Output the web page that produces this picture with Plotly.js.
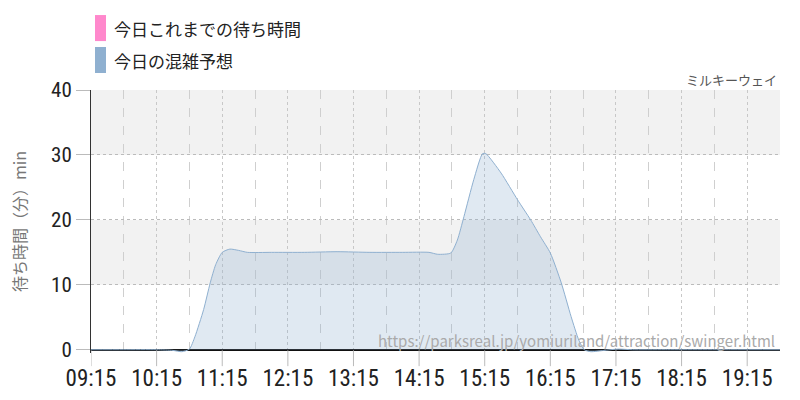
<!DOCTYPE html>
<html><head><meta charset="utf-8">
<script src="https://cdn.plot.ly/plotly-3.0.1.min.js"></script>
<style>html,body{margin:0;padding:0;background:#fff}#chart{width:800px;height:400px}</style>
</head><body><div id="chart"></div>
<script>
const day = '2024-01-01 ';
const seriesNames = ['今日これまでの待ち時間', '今日の混雑予想'];
const attractionName = 'ミルキーウェイ';
const sourceUrl = 'https://parksreal.jp/yomiuriland/attraction/swinger.html';
const yTitle = '待ち時間（分）min';

// today's actual waits so far (none)
const actualTimes = [];
const actualWaits = [];

// forecast
const forecastTimes = ['09:15','09:45','10:15','10:30','10:38','10:45','10:50','10:58','11:04','11:09','11:15','11:22','11:30','11:38','12:00','12:30','13:00','13:30','14:00','14:24','14:32','14:44','14:50','14:56','15:05','15:13','15:16','15:30','15:45','15:57','16:06','16:15','16:25','16:34','16:41','16:46','16:52','17:04','17:17','17:30','18:00','19:00','19:45'];
const forecastWaits = [0,0,0,-0.1,-0.3,0.1,2.0,6.2,10.3,13.1,15.0,15.5,15.3,15.0,15.0,15.0,15.1,15.0,15.0,15.0,14.7,14.9,16.9,20.5,26.2,30.2,30.2,27.2,23.1,20.0,17.4,14.9,10.3,5.1,1.5,0,-0.3,-0.1,0.1,0,0,0,0];

const tickTimes = ['09:15','10:15','11:15','12:15','13:15','14:15','15:15','16:15','17:15','18:15','19:15'];
const yTicks = [0,10,20,30,40];
const bands = [[10,20],[30,40]];

const condensed = '"Roboto Condensed","Liberation Sans Narrow","DejaVu Sans Condensed",sans-serif';
const jp = '"Noto Sans CJK JP","Noto Sans",sans-serif';

const traces = [
  {x: actualTimes.map(t=>day+t), y: actualWaits, type:'scatter', mode:'lines', name: seriesNames[0],
   line:{color:'#ff88cc', width:1}, fill:'tozeroy', fillcolor:'rgba(255,136,204,0.3)', showlegend:false, hoverinfo:'skip'},
  {x: forecastTimes.map(t=>day+t), y: forecastWaits, type:'scatter', mode:'lines', name: seriesNames[1],
   line:{color:'#8fb0d0', width:1, shape:'spline', smoothing:0.6}, fill:'tozeroy', fillcolor:'rgba(143,176,208,0.28)', showlegend:false, hoverinfo:'skip'}
];

const shapes = bands.map(b=>({type:'rect', xref:'paper', yref:'y', x0:0, x1:1, y0:b[0], y1:b[1], fillcolor:'#f2f2f2', line:{width:0}, layer:'below'}));
// longer x tick marks below the axis
tickTimes.forEach(t=>shapes.push({type:'line', xref:'x', yref:'paper', x0:day+t, x1:day+t, y0:0.01, y1:-0.05, line:{color:'#bbb', width:1}}));
shapes.push({type:'rect', xref:'paper', yref:'paper', x0:0.0058, x1:0.0218, y0:1.186, y1:1.285, fillcolor:'#ff88cc', line:{width:0}});
shapes.push({type:'rect', xref:'paper', yref:'paper', x0:0.0058, x1:0.0218, y0:1.0646, y1:1.1635, fillcolor:'#8fb0d0', line:{width:0}});

const annotations = [
  {xref:'paper', yref:'paper', x:0.0305, y:1.2357, xanchor:'left', yanchor:'middle', text:seriesNames[0], showarrow:false, font:{family:jp, size:17, color:'#222'}},
  {xref:'paper', yref:'paper', x:0.0305, y:1.114, xanchor:'left', yanchor:'middle', text:seriesNames[1], showarrow:false, font:{family:jp, size:17, color:'#222'}},
  {xref:'paper', yref:'paper', x:0.9985, y:1.0418, xanchor:'right', yanchor:'middle', text:attractionName, showarrow:false, font:{family:jp, size:13, color:'#555'}},
  {xref:'paper', yref:'paper', x:0.9956, y:0.0494, xanchor:'right', yanchor:'middle', text:sourceUrl, showarrow:false, font:{family:jp, size:15, color:'#aaa'}}
];

const layout = {
  width:800, height:400,
  margin:{l:91, r:20, t:90, b:47},
  paper_bgcolor:'#fff', plot_bgcolor:'#fff',
  showlegend:false,
  xaxis:{
    type:'date', range:[day+'09:15', day+'19:45'],
    tickvals: tickTimes.map(t=>day+t), ticktext: tickTimes,
    showgrid:true, gridcolor:'#c8c8c8', griddash:'dot', gridwidth:1,
    minor:{tick0: day+'09:45', dtick:3600000, showgrid:true, gridcolor:'#cfcfcf', griddash:'dash', gridwidth:1},
    ticks:'outside', ticklen:4, tickcolor:'rgba(0,0,0,0)', tickwidth:1,
    showline:false, zeroline:false,
    tickfont:{family:condensed, size:23, color:'#222'},
    fixedrange:true
  },
  yaxis:{
    range:[-0.5,40], tickvals:yTicks,
    showgrid:true, gridcolor:'#bbb', griddash:'dot', gridwidth:1,
    zeroline:true, zerolinecolor:'#111', zerolinewidth:1.5,
    showline:true, linecolor:'#333', linewidth:1,
    ticks:'outside', ticklen:14, tickcolor:'#bbb', tickwidth:1,
    tickfont:{family:condensed, size:21, color:'#222'},
    title:{text:yTitle, font:{family:jp, size:16, color:'#777'}, standoff:20},
    fixedrange:true
  },
  shapes: shapes,
  annotations: annotations
};

Plotly.newPlot('chart', traces, layout, {displayModeBar:false, staticPlot:true});
</script></body></html>
